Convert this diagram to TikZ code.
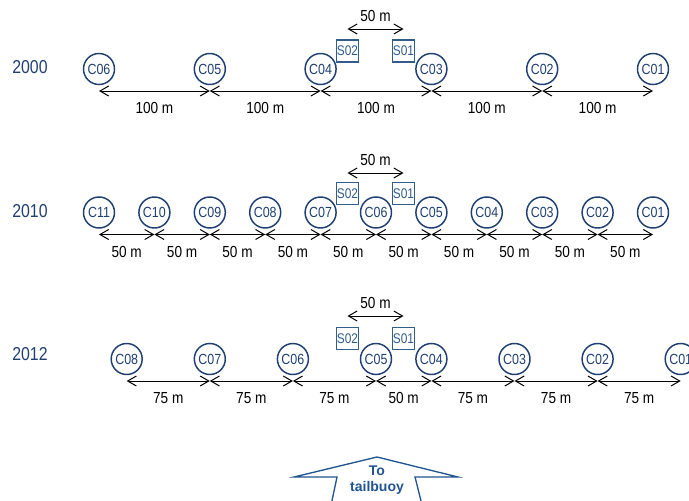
\documentclass[tikz,border=0pt]{standalone}
\usepackage{fontspec}
\setmainfont[FakeStretch=0.85]{Liberation Sans}
\newfontfamily\tailfont{Liberation Sans}
\usetikzlibrary{arrows.meta,calc}
\definecolor{buoyblue}{RGB}{31,63,115}
\definecolor{boxblue}{RGB}{50,92,140}
\definecolor{tailblue}{RGB}{33,85,145}
\tikzset{
  buoy/.style={circle,draw=buoyblue,line width=1.1pt,text=buoyblue,minimum size=23.25pt,inner sep=0pt,font=\fontsize{11}{12}\selectfont},
  sensor/.style={rectangle,draw=boxblue,line width=0.8pt,text=boxblue,minimum width=15.75pt,minimum height=16.5pt,inner sep=0.5pt,font=\fontsize{10.5}{12}\selectfont},
  year/.style={text=buoyblue,font=\fontsize{14}{15}\selectfont},
  dim/.style={{Straight Barb[length=6.5pt,width=7.5pt]}-{Straight Barb[length=6.5pt,width=7.5pt]},line width=0.75pt},
  dist/.style={midway,yshift=-12.75pt,font=\fontsize{12}{13}\selectfont},
  distup/.style={midway,yshift=10pt,font=\fontsize{12}{13}\selectfont}
}
\begin{document}
\begin{tikzpicture}[x=0.75pt,y=-0.75pt]
\useasboundingbox (0,0) rectangle (689,500);

% 2000: six buoys, 100 m apart
\node[year] (y00) at (30,67) {2000};
\foreach \n [count=\k] in {06,05,04,03,02,01} {
  \node[buoy] (y00-c\n) at ({99+110.8*(\k-1)},69) {C\n};
  \coordinate (y00-c\n-a) at ({99+110.8*(\k-1)},91);
}
\foreach \n [remember=\n as \p (initially 06)] in {05,04,03,02,01}
  \draw[dim] (y00-c\p-a) -- node[dist]{100 m} (y00-c\n-a);

% 2010: eleven buoys, 50 m apart
\node[year] (y10) at (30,210.7) {2010};
\foreach \n [count=\k] in {11,10,09,08,07,06,05,04,03,02,01} {
  \node[buoy] (y10-c\n) at ({99+55.4*(\k-1)},212.5) {C\n};
  \coordinate (y10-c\n-a) at ({99+55.4*(\k-1)},234.5);
}
\foreach \n [remember=\n as \p (initially 11)] in {10,09,08,07,06,05,04,03,02,01}
  \draw[dim] (y10-c\p-a) -- node[dist]{50 m} (y10-c\n-a);

% 2012: eight buoys, 75 m apart, 50 m in the middle
\node[year] (y12) at (30,354) {2012};
\foreach \n/\x in {08/126.7,07/209.8,06/292.9,05/376,04/431.4,03/514.5,02/597.6,01/680.7} {
  \node[buoy] (y12-c\n) at (\x,359) {C\n};
  \coordinate (y12-c\n-a) at (\x,381);
}
\foreach \n/\d [remember=\n as \p (initially 08)] in {07/75,06/75,05/75,04/50,03/75,02/75,01/75}
  \draw[dim] (y12-c\p-a) -- node[dist]{\d\ m} (y12-c\n-a);

% sensor pairs
\foreach \r/\sy/\ay in {00/51/29,10/193.5/173,12/338.5/316} {
  \node[sensor] (y\r-s02) at (347.5,\sy) {S02};
  \node[sensor] (y\r-s01) at (403.5,\sy) {S01};
  \coordinate (y\r-s02-a) at (347.5,\ay);
  \coordinate (y\r-s01-a) at (403.5,\ay);
  \draw[dim] (y\r-s02-a) -- node[distup]{50 m} (y\r-s01-a);
}

% arrow to the tailbuoy
\draw[tailblue,line width=1pt,line join=miter] (331.5,503) -- (337,477) -- (294,477) -- (377,457)
  -- (458,477) -- (415,477) -- (421.5,503);
\node[text=tailblue,align=center,font=\tailfont\bfseries\fontsize{10.5}{11.5}\selectfont] (tail) at (377,480) {To\\tailbuoy};
\end{tikzpicture}
\end{document}
